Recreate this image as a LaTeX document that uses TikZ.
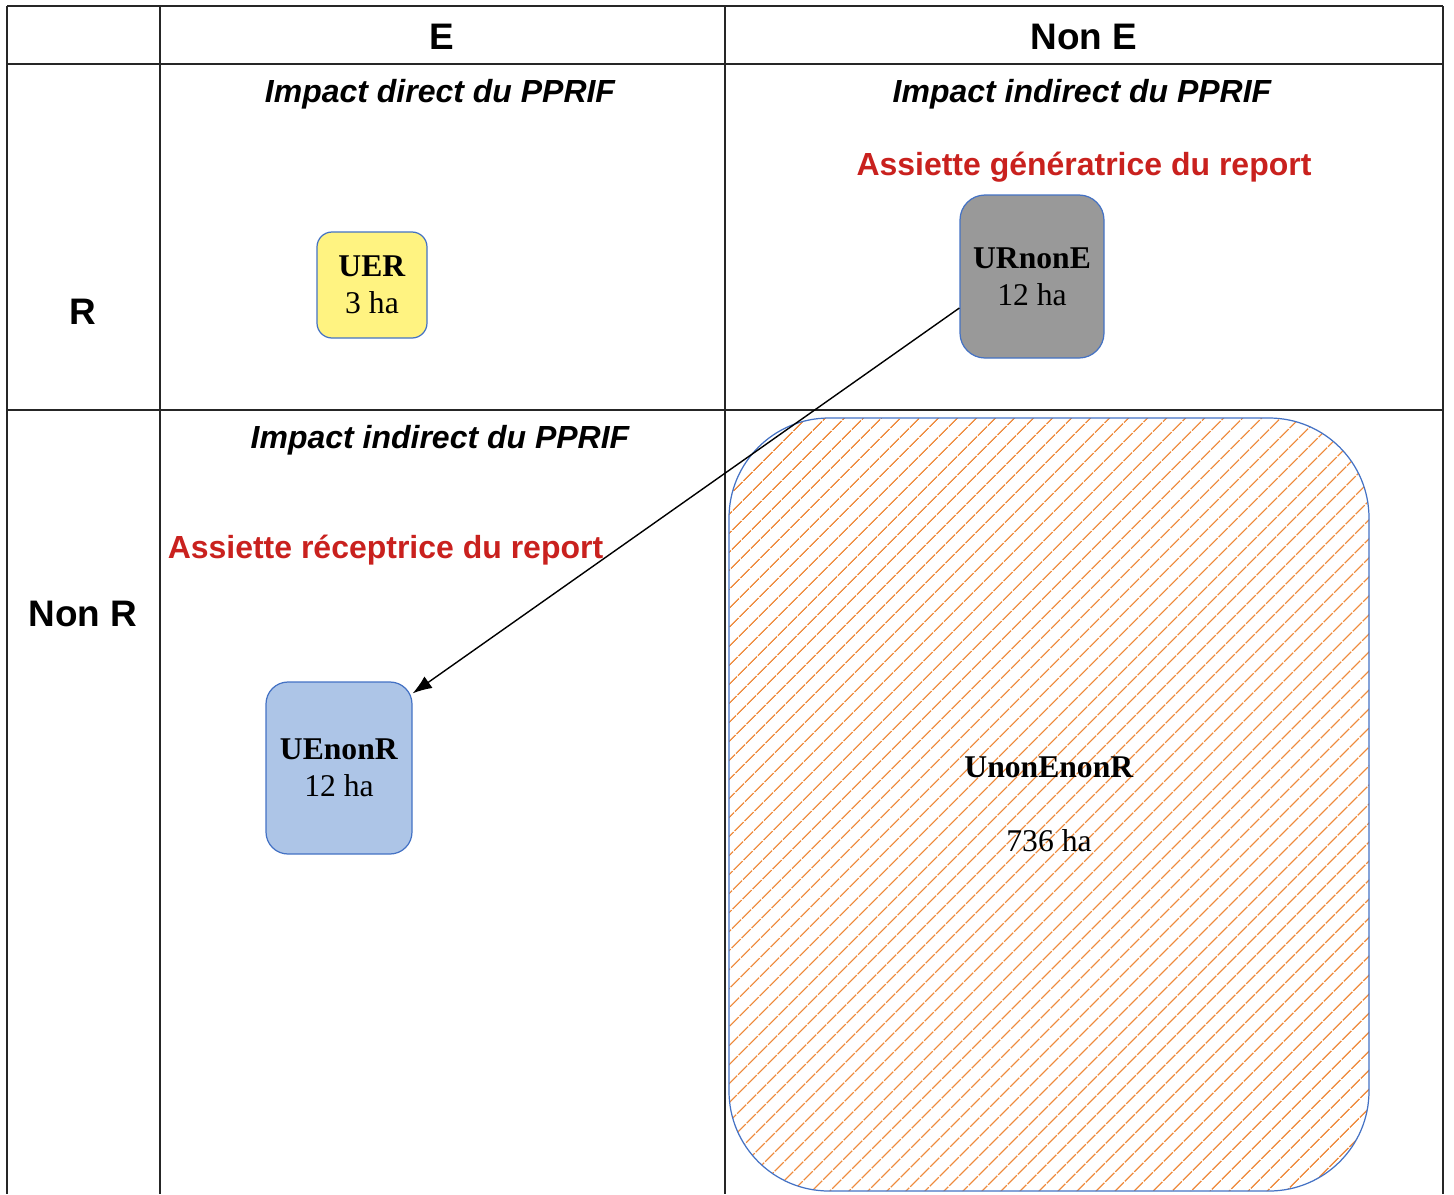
\documentclass[tikz,border=0pt]{standalone}
\usepackage{fontspec}
\setmainfont{Liberation Serif}
\setsansfont{Liberation Sans}
\usetikzlibrary{patterns.meta,arrows.meta}

\definecolor{uerfill}{HTML}{FFF381}
\definecolor{urnonefill}{HTML}{999999}
\definecolor{uenonrfill}{HTML}{ADC5E7}
\definecolor{zoneline}{HTML}{4472C4}
\definecolor{hatchorange}{HTML}{EE8A3C}
\definecolor{reportred}{HTML}{C9211E}

\begin{document}
\begin{tikzpicture}[
        gridline/.style={line width=0.5pt, black!85},
        headtxt/.style={font=\sffamily\bfseries\fontsize{10.5}{12}\selectfont},
        impacttxt/.style={font=\sffamily\bfseries\itshape\fontsize{9.1}{11}\selectfont},
        reporttxt/.style={text=reportred, font=\sffamily\bfseries\fontsize{9.1}{11}\selectfont},
        zone/.style={draw=zoneline, line width=0.35pt, align=center, inner sep=0pt,
            font=\fontsize{9}{10.5}\selectfont, execute at begin node={\rule{0pt}{8.3pt}}}
    ]
        \useasboundingbox (0,0) rectangle (14.54,-11.94);

        % table
        \draw[gridline] (0.07,-0.06) -- (14.43,-0.06);
        \draw[gridline] (0.07,-0.64) -- (14.43,-0.64);
        \draw[gridline] (0.07,-4.10) -- (14.43,-4.10);
        \draw[gridline] (0.07,-0.06) -- (0.07,-11.94);
        \draw[gridline] (1.60,-0.06) -- (1.60,-11.94);
        \draw[gridline] (7.25,-0.06) -- (7.25,-11.94);
        \draw[gridline] (14.43,-0.06) -- (14.43,-11.94);

        \node[headtxt] (colE) at (4.42, -0.37) {E};
        \node[headtxt] (colNonE) at (10.84, -0.37) {Non E};
        \node[headtxt] (rowR) at (0.83, -3.12) {R};
        \node[headtxt] (rowNonR) at (0.83, -6.14) {Non R};

        \node[impacttxt] (impER) at (4.40, -0.94) {Impact direct du PPRIF};
        \node[impacttxt] (impRnonE) at (10.82, -0.94) {Impact indirect du PPRIF};
        \node[impacttxt] (impEnonR) at (4.40, -4.40) {Impact indirect du PPRIF};

        \node[reporttxt] (gen) at (10.84, -1.67) {Assiette génératrice du report};
        \node[reporttxt] (rec) at (3.855, -5.50) {Assiette réceptrice du report};

        % surfaces
        \node[zone, fill=uerfill, rounded corners=0.15cm, minimum width=1.10cm, minimum height=1.06cm]
            (UER) at (3.72, -2.85) {\textbf{UER}\\3 ha};
        \node[zone, fill=urnonefill, rounded corners=0.25cm, minimum width=1.44cm, minimum height=1.63cm]
            (URnonE) at (10.32, -2.765) {\textbf{URnonE}\\12 ha};
        \node[zone, fill=uenonrfill, rounded corners=0.22cm, minimum width=1.46cm, minimum height=1.72cm]
            (UEnonR) at (3.39, -7.68) {\textbf{UEnonR}\\12 ha};
        \node[zone, pattern={Lines[angle=45, distance=3.85pt, line width=0.4pt]}, pattern color=hatchorange,
            rounded corners=1cm, minimum width=6.40cm, minimum height=7.73cm]
            (UnonEnonR) at (10.49, -8.045) {\textbf{UnonEnonR}\\[10.5pt]736 ha};

        % report arrow
        \draw[-{Latex[length=5.5pt,width=4pt]}, line width=0.4pt]
            ([yshift=-0.315cm]URnonE.west) -- ([yshift=-0.12cm]UEnonR.north east);

    \end{tikzpicture}
\end{document}
